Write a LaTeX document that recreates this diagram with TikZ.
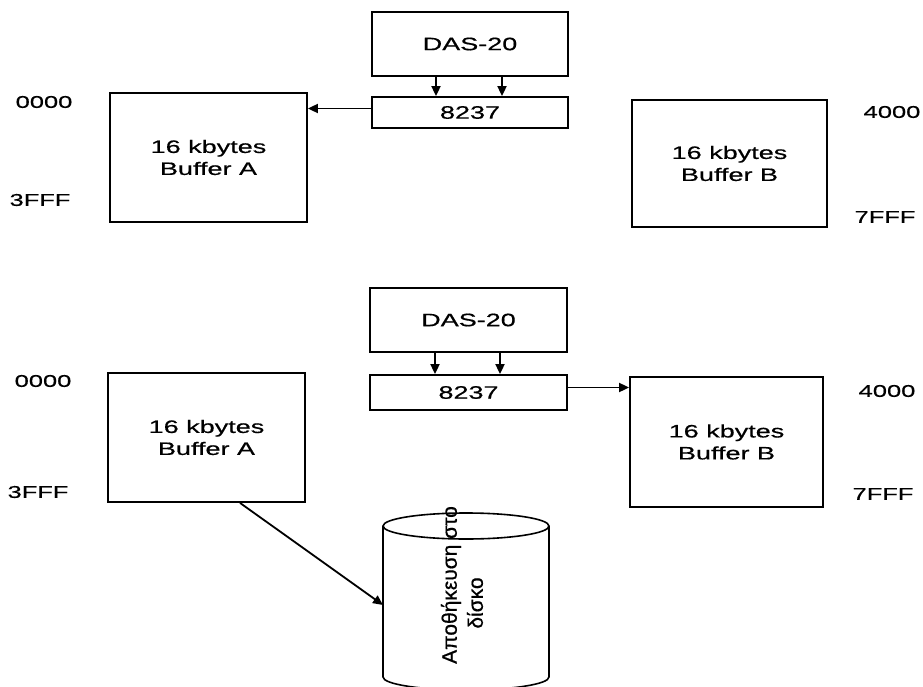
\documentclass[tikz,border=0pt]{standalone}
\usepackage{fontspec}
\setmainfont{Liberation Sans}
\newfontfamily\widefont[FakeStretch=1.5,FakeBold=0.6]{Liberation Sans}
\newfontfamily\diskfont[FakeBold=0.6]{Liberation Sans}
\usetikzlibrary{arrows.meta}
\begin{document}
\begin{tikzpicture}[x=1pt,y=-1pt,
  box/.style={draw,line width=1.8pt,inner sep=0pt,align=center,
    font=\widefont\fontsize{18}{22}\selectfont},
  addr/.style={inner sep=0pt,font=\widefont\fontsize{17}{20}\selectfont},
  conn/.style={line width=1.8pt,-{Triangle[length=10pt,width=9pt]}},
  disk/.style={line width=1.6pt},
  disktext/.style={inner sep=0pt,rotate=90,font=\diskfont\fontsize{21}{24}\selectfont}]
\useasboundingbox (0,0) rectangle (923,687);

% ---------- upper diagram ----------
\node[box,minimum width=196pt,minimum height=64pt] (das1) at (470,44) {DAS-20};
\node[box,minimum width=196pt,minimum height=31pt] (p1) at (470,112.5) {8237};
\node[box,minimum width=197pt,minimum height=129pt] (a1) at (208.5,157.5) {16 kbytes\\Buffer A};
\node[box,minimum width=195pt,minimum height=127pt] (b1) at (729.5,163.5) {16 kbytes\\Buffer B};

\node[addr] (a1s) at (44,102) {0000};
\node[addr] (a1e) at (40,200) {3FFF};
\node[addr] (b1s) at (892,112) {4000};
\node[addr] (b1e) at (885,217) {7FFF};

\draw[conn] ([xshift=-34pt]das1.south) -- ([xshift=-34pt]p1.north);
\draw[conn] ([xshift=32pt]das1.south) -- ([xshift=32pt]p1.north);
\draw[conn] ([yshift=4pt]p1.west) -- ([yshift=4pt]p1.west -| a1.east);

% ---------- lower diagram ----------
\node[box,minimum width=197pt,minimum height=64pt] (das2) at (468.5,320) {DAS-20};
\node[box,minimum width=197pt,minimum height=35pt] (p2) at (468.5,392.5) {8237};
\node[box,minimum width=197pt,minimum height=129pt] (a2) at (206.5,437.5) {16 kbytes\\Buffer A};
\node[box,minimum width=193pt,minimum height=130pt] (b2) at (726.5,442) {16 kbytes\\Buffer B};

\node[addr] (a2s) at (43,381) {0000};
\node[addr] (a2e) at (38,492) {3FFF};
\node[addr] (b2s) at (887,391) {4000};
\node[addr] (b2e) at (883,494) {7FFF};

\draw[conn] ([xshift=-33.5pt]das2.south) -- ([xshift=-33.5pt]p2.north);
\draw[conn] ([xshift=31.5pt]das2.south) -- ([xshift=31.5pt]p2.north);
\draw[conn] ([yshift=5pt]p2.east) -- ([yshift=5pt]p2.east -| b2.west);

% ---------- disk ----------
\draw[disk] (466,526) ellipse [x radius=83pt, y radius=13pt];
\draw[disk] (383,526) -- (383,677) arc [start angle=180, end angle=360, x radius=83pt, y radius=13pt] -- (549,526);
\coordinate (diskin) at (383,605);
\node[disktext] (dt1) at (451,585) {Αποθήκευση στο};
\node[disktext] (dt2) at (475,603) {δίσκο};

\draw[conn] ([xshift=33.5pt]a2.south) -- (diskin);
\end{tikzpicture}
\end{document}
